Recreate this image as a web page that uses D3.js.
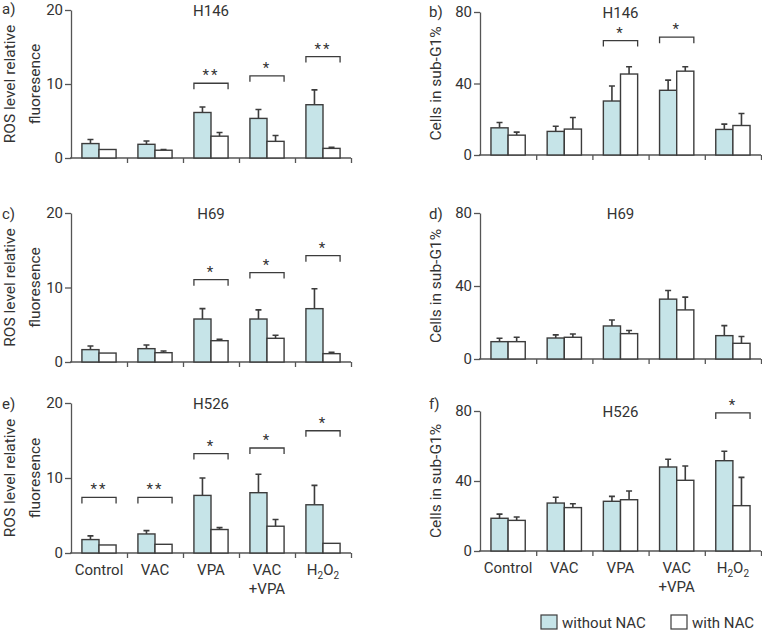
<!DOCTYPE html>
<html><head><meta charset="utf-8">
<script src="https://cdn.jsdelivr.net/npm/d3@7"></script>
<style>body{margin:0;background:#fff}text{font-family:Roboto,"DejaVu Sans",sans-serif;fill:#333}</style>
</head><body><svg id="c" width="762" height="640"></svg>
<script>
const categories = ["Control","VAC","VPA","VAC+VPA","H2O2"];
// a) ROS H146
const rosH146Without = [1.95,1.85,6.15,5.35,7.2];
const rosH146WithoutSD = [0.55,0.45,0.75,1.2,2.0];
const rosH146With = [1.15,1.05,2.95,2.25,1.3];
const rosH146WithSD = [0,0.08,0.5,0.8,0.15];
const rosH146Bracket = [null,null,10.1,11.1,13.7];
const rosH146Stars = ["","","**","*","**"];
// b) sub-G1 H146
const subG1H146Without = [15.2,13.2,30.2,36.2,14.3];
const subG1H146WithoutSD = [3.0,2.9,8.4,5.7,3.0];
const subG1H146With = [11.1,14.5,45.3,46.9,16.5];
const subG1H146WithSD = [1.7,6.5,4.1,2.5,6.7];
const subG1H146Bracket = [null,null,64,65.9,null];
const subG1H146Stars = ["","","*","*",""];
// c) ROS H69
const rosH69Without = [1.66,1.79,5.77,5.77,7.16];
const rosH69WithoutSD = [0.49,0.49,1.39,1.23,2.68];
const rosH69With = [1.2,1.25,2.86,3.18,1.12];
const rosH69WithSD = [0,0.23,0.18,0.42,0.18];
const rosH69Bracket = [null,null,11.05,12.0,14.27];
const rosH69Stars = ["","","*","*","*"];
// d) sub-G1 H69
const subG1H69Without = [9.5,11.5,18.1,32.8,12.8];
const subG1H69WithoutSD = [1.85,1.7,3.3,4.7,5.5];
const subG1H69With = [9.5,11.9,13.9,26.9,8.6];
const subG1H69WithSD = [2.4,1.8,1.7,7.0,3.7];
const subG1H69Bracket = [null,null,null,null,null];
const subG1H69Stars = ["","","","",""];
// e) ROS H526
const rosH526Without = [1.79,2.54,7.68,8.04,6.43];
const rosH526WithoutSD = [0.49,0.45,2.32,2.46,2.59];
const rosH526With = [1.07,1.16,3.13,3.57,1.29];
const rosH526WithSD = [0,0,0.26,0.89,0];
const rosH526Bracket = [7.41,7.41,13.26,14.0,16.3];
const rosH526Stars = ["**","**","*","*","*"];
// f) sub-G1 H526
const subG1H526Without = [18.7,27.4,28.4,48,51.6];
const subG1H526WithoutSD = [2.4,3.3,2.8,4.4,5.4];
const subG1H526With = [17.5,24.8,29.3,40.4,25.9];
const subG1H526WithSD = [1.9,2.2,5.0,8.2,16.2];
const subG1H526Bracket = [null,null,null,null,78.9];
const subG1H526Stars = ["","","","","*"];

const rosTicks = [0,10,20];
const subG1Ticks = [0,40,80];
const seriesNames = ["without NAC","with NAC"];

const CYAN = "#c6e4e8", STROKE = "#3c3c3c", AXIS = "#555";
const svg = d3.select("#c");

const panels = [
  {label:"a)", title:"H146", x0:71, x1:351, yTop:10, yBot:158, max:20, ticks:rosTicks, yl:["ROS level relative","fluoresence"], ylx:[15,40], lx:2, ly:14,
   w:rosH146Without, ws:rosH146WithoutSD, n:rosH146With, ns:rosH146WithSD, br:rosH146Bracket, st:rosH146Stars, cats:false},
  {label:"b)", title:"H146", x0:480, x1:761, yTop:12, yBot:155, max:80, ticks:subG1Ticks, yl:["Cells in sub-G1%"], ylx:[441], lx:429, ly:17,
   w:subG1H146Without, ws:subG1H146WithoutSD, n:subG1H146With, ns:subG1H146WithSD, br:subG1H146Bracket, st:subG1H146Stars, cats:false},
  {label:"c)", title:"H69", x0:71, x1:351, yTop:213, yBot:362, max:20, ticks:rosTicks, yl:["ROS level relative","fluoresence"], ylx:[15,40], lx:2, ly:219,
   w:rosH69Without, ws:rosH69WithoutSD, n:rosH69With, ns:rosH69WithSD, br:rosH69Bracket, st:rosH69Stars, cats:false},
  {label:"d)", title:"H69", x0:480, x1:761, yTop:213, yBot:359, max:80, ticks:subG1Ticks, yl:["Cells in sub-G1%"], ylx:[441], lx:429, ly:219,
   w:subG1H69Without, ws:subG1H69WithoutSD, n:subG1H69With, ns:subG1H69WithSD, br:subG1H69Bracket, st:subG1H69Stars, cats:false},
  {label:"e)", title:"H526", x0:71, x1:351, yTop:403, yBot:553, max:20, ticks:rosTicks, yl:["ROS level relative","fluoresence"], ylx:[15,40], lx:2, ly:409,
   w:rosH526Without, ws:rosH526WithoutSD, n:rosH526With, ns:rosH526WithSD, br:rosH526Bracket, st:rosH526Stars, cats:true},
  {label:"f)", title:"H526", x0:480, x1:761, yTop:411, yBot:551, max:80, ticks:subG1Ticks, yl:["Cells in sub-G1%"], ylx:[441], lx:429, ly:409,
   w:subG1H526Without, ws:subG1H526WithoutSD, n:subG1H526With, ns:subG1H526WithSD, br:subG1H526Bracket, st:subG1H526Stars, cats:true}
];

function catLabel(sel, c){
  if(c==="H2O2"){
    sel.append("tspan").text("H");
    sel.append("tspan").attr("font-size","10px").attr("dy",4).text("2");
    sel.append("tspan").attr("dy",-4).text("O");
    sel.append("tspan").attr("font-size","10px").attr("dy",4).text("2");
  } else if(c==="VAC+VPA"){
    sel.append("tspan").text("VAC");
    sel.append("tspan").attr("x",sel.attr("x")).attr("dy",19).text("+VPA");
  } else sel.text(c);
}

panels.forEach(p=>{
  const g = svg.append("g");
  const x = d3.scaleBand().domain(categories).range([p.x0,p.x1]).padding(0);
  const xb = d3.scaleLinear().domain([0,categories.length]).range([p.x0,p.x1]);
  const y = d3.scaleLinear().domain([0,p.max]).range([p.yBot,p.yTop]);
  const bw = x.bandwidth()*0.305;

  // axes
  const ya = g.append("g").attr("transform",`translate(${p.x0},0)`)
    .call(d3.axisLeft(y).tickValues(p.ticks).tickSize(6).tickSizeOuter(0).tickPadding(2));
  const xa = g.append("g").attr("transform",`translate(0,${p.yBot})`)
    .call(d3.axisBottom(xb).tickValues(d3.range(1,categories.length+1)).tickFormat("").tickSize(5).tickSizeOuter(0));
  [ya,xa].forEach(a=>{a.selectAll("path,line").attr("stroke",AXIS).attr("stroke-width",1.3);
    a.selectAll("text").attr("font-size","15px").attr("fill","#444").style("font-family","Roboto");});
  xa.select("path").attr("d",`M${p.x0-1},0H${p.x1}`);

  // bars
  const series = [{v:p.w,s:p.ws,fill:CYAN,off:-bw},{v:p.n,s:p.ns,fill:"#fff",off:0}];
  series.forEach(se=>{
    const cx = c=> x(c)+x.bandwidth()/2+se.off;
    // error bars
    g.selectAll(null).data(categories.map((c,i)=>({c,v:se.v[i],s:se.s[i]})).filter(d=>d.s>0)).enter()
      .append("path").attr("fill","none").attr("stroke",STROKE).attr("stroke-width",1.6)
      .attr("d",d=>{const xc=cx(d.c)+bw/2; return `M${xc},${y(d.v)}V${y(d.v+d.s)}M${xc-3},${y(d.v+d.s)}H${xc+3}`;});
    g.selectAll(null).data(categories.map((c,i)=>({c,v:se.v[i]}))).enter()
      .append("rect").attr("x",d=>cx(d.c)).attr("width",bw)
      .attr("y",d=>y(d.v)).attr("height",d=>y(0)-y(d.v))
      .attr("fill",se.fill).attr("stroke",STROKE).attr("stroke-width",1.4);
  });

  // brackets
  const bd = categories.map((c,i)=>({c,b:p.br[i],s:p.st[i]})).filter(d=>d.b!=null);
  g.selectAll(null).data(bd).enter().append("path").attr("fill","none").attr("stroke",STROKE).attr("stroke-width",1.3)
    .attr("d",d=>{const l=x(d.c)+x.bandwidth()/2-bw, r=x(d.c)+x.bandwidth()/2+bw, yy=y(d.b);
      return `M${l},${yy+6}V${yy}H${r}V${yy+6}`;});
  g.selectAll(null).data(bd).enter().append("text").attr("x",d=>x(d.c)+x.bandwidth()/2).attr("y",d=>y(d.b)-3)
    .attr("text-anchor","middle").attr("font-size","15px").attr("letter-spacing","2px").text(d=>d.s);

  // title
  g.append("text").attr("x",(p.x0+p.x1)/2).attr("y",p.yTop+6).attr("text-anchor","middle").attr("font-size","15px").text(p.title);
  // panel label
  g.append("text").attr("x",p.lx).attr("y",p.ly).attr("font-size","15px").text(p.label);
  // y label
  const yc = (p.yTop+p.yBot)/2;
  p.yl.forEach((t,i)=>{
    g.append("text").attr("transform",`translate(${p.ylx[i]},${yc}) rotate(-90)`).attr("text-anchor","middle")
      .attr("font-size","15.5px").text(t);
  });
  // category labels
  if(p.cats){
    categories.forEach(c=>{
      const t = g.append("text").attr("x",x(c)+x.bandwidth()/2).attr("y",p.yBot+22).attr("text-anchor","middle").attr("font-size","15px");
      catLabel(t,c);
    });
  }
});

// legend
const leg = svg.append("g");
const legItems = [{name:seriesNames[0],fill:CYAN,x:541},{name:seriesNames[1],fill:"#fff",x:671}];
legItems.forEach(d=>{
  leg.append("rect").attr("x",d.x).attr("y",615).attr("width",16).attr("height",14).attr("fill",d.fill).attr("stroke",STROKE).attr("stroke-width",1.2);
  leg.append("text").attr("x",d.x+21).attr("y",628).attr("font-size","15px").text(d.name);
});
</script></body></html>
